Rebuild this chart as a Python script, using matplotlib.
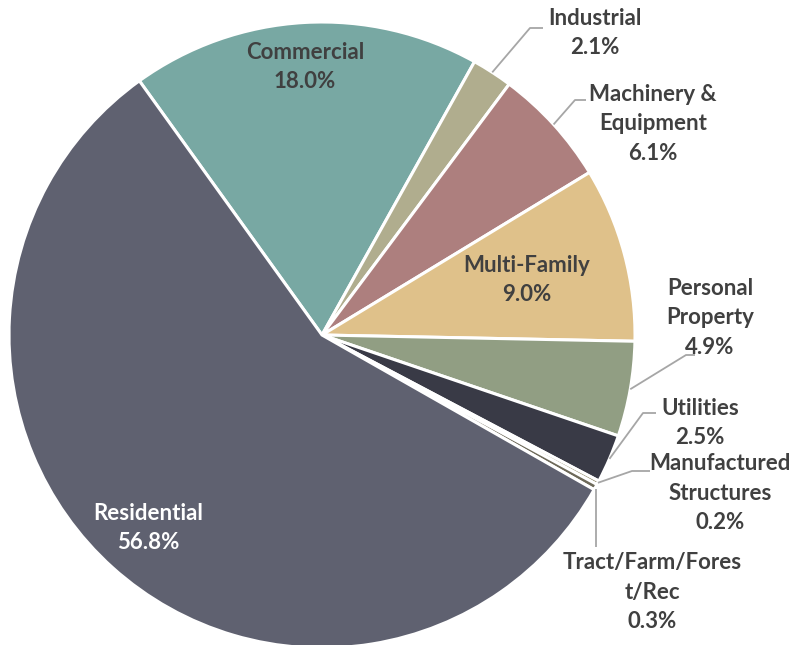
import numpy as np
import matplotlib
matplotlib.use("Agg")
import matplotlib.pyplot as plt

categories = ["Commercial", "Industrial", "Machinery &\nEquipment", "Multi-Family",
              "Personal\nProperty", "Utilities", "Manufactured\nStructures",
              "Tract/Farm/Fores\nt/Rec", "Residential"]
shares = [18.0, 2.1, 6.1, 9.0, 4.9, 2.5, 0.2, 0.3, 56.8]
pct_labels = ["18.0%", "2.1%", "6.1%", "9.0%", "4.9%", "2.5%", "0.2%", "0.3%", "56.8%"]
colors = ["#78A8A3", "#B0AD8E", "#AD7F7E", "#DFC18A", "#919E83",
          "#393A46", "#8D8766", "#6E6A5A", "#5F6170"]

plt.rcParams['font.family'] = ['Lato', 'DejaVu Sans']
TEXT = "#404040"
LINE = "#A6A6A6"

fig = plt.figure(figsize=(7.94, 6.45), dpi=100)
ax = fig.add_axes([0, 0, 1, 1])

cx, cy, R = 322, 310, 313
wedges, _ = ax.pie(shares, colors=colors, startangle=125.7, counterclock=False,
                   center=(cx, cy), radius=R, frame=True,
                   wedgeprops=dict(edgecolor="white", linewidth=2.2))
ax.set_xlim(0, 794)
ax.set_ylim(0, 645)
ax.set_aspect('equal')
ax.axis('off')

# label text centres (pixel coords, y from top) and leader elbows
label_pos = {
    0: (305, 67), 1: (595, 33), 2: (653, 124), 3: (527, 280),
    4: (710, 318), 5: (700, 423), 6: (720, 493), 7: (652, 592), 8: (148, 528),
}
elbows = {
    1: [(530, 28), (543, 28)],
    2: [(575, 100), (586, 100)],
    4: [(686, 355), (695, 355)],
    5: [(643, 413), (656, 413)],
    6: [(632, 471), (650, 471)],
    7: [(593, 547)],
}

for i, w in enumerate(wedges):
    tx, ty = label_pos[i]
    col = "white" if i == 8 else TEXT
    ax.text(tx, 645 - ty, categories[i] + "\n" + pct_labels[i], ha="center", va="center",
            fontsize=16, fontweight="bold", color=col, linespacing=1.5)
    if i in elbows:
        mid = np.deg2rad((w.theta1 + w.theta2) / 2)
        pts = [(cx + R * np.cos(mid), cy + R * np.sin(mid))]
        if i == 7:
            pts = [(pts[0][0], pts[0][1] - 2)]
            pts += [(pts[0][0], 645 - p[1]) for p in elbows[i]]
        else:
            pts += [(p[0], 645 - p[1]) for p in elbows[i]]
        xs, ys = zip(*pts)
        ax.plot(xs, ys, color=LINE, linewidth=1.3, solid_capstyle="butt")

fig.savefig("out.png", dpi=100)
